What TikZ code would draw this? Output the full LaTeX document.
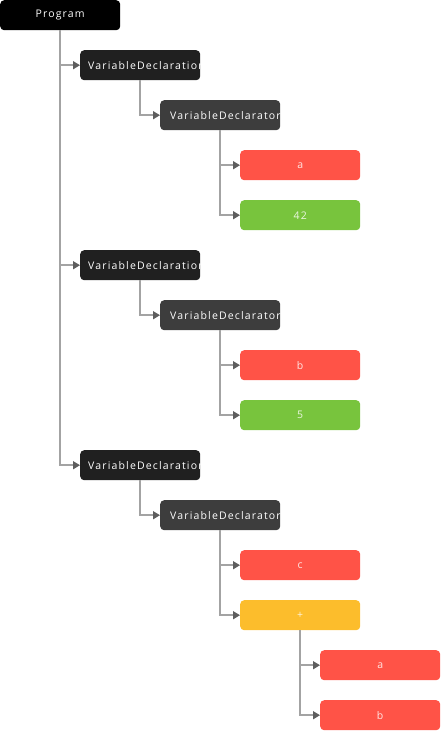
\documentclass[tikz,border=0pt]{standalone}
\usepackage{fontspec}
\setmainfont{Open Sans}
\usetikzlibrary{arrows.meta}
\definecolor{cprog}{HTML}{000000}
\definecolor{cvd}{HTML}{202020}
\definecolor{cvdr}{HTML}{3D3D3D}
\definecolor{cred}{HTML}{FF5347}
\definecolor{cgreen}{HTML}{78C43D}
\definecolor{cyellow}{HTML}{FCBD2C}
\definecolor{cline}{HTML}{A3A3A3}
\definecolor{ctip}{HTML}{5E5E5E}
\begin{document}
\begin{tikzpicture}[x=1pt,y=-1pt,
  box/.style={anchor=north west, minimum width=120pt, minimum height=30pt, inner sep=0pt, rounded corners=4pt, draw=none},
  lbl/.style={text=white, font=\fontsize{10.5}{12}\selectfont\addfontfeatures{LetterSpace=11}, inner sep=0pt},
  lblsoft/.style={lbl, text opacity=0.85},
  conn/.style={draw=cline, line width=1.5pt, -{Triangle[length=7pt,width=8pt,fill=ctip,color=ctip]}}
]
\useasboundingbox (0,0) rectangle (440,740);
% nodes
\node[box, fill=cprog] (prog) at (0,0) {};
\node[box, fill=cvd] (vda) at (80,50) {};
\node[box, fill=cvdr] (vdra) at (160,100) {};
\node[box, fill=cred] (ida) at (240,150) {};
\node[box, fill=cgreen] (lit42) at (240,200) {};
\node[box, fill=cvd] (vdb) at (80,250) {};
\node[box, fill=cvdr] (vdrb) at (160,300) {};
\node[box, fill=cred] (idb) at (240,350) {};
\node[box, fill=cgreen] (lit5) at (240,400) {};
\node[box, fill=cvd] (vdc) at (80,450) {};
\node[box, fill=cvdr] (vdrc) at (160,500) {};
\node[box, fill=cred] (idc) at (240,550) {};
\node[box, fill=cyellow] (plus) at (240,600) {};
\node[box, fill=cred] (ida2) at (320,650) {};
\node[box, fill=cred] (idb2) at (320,700) {};
% labels
\node[lbl] (progt) at (prog.center) {Program};
\foreach \n/\t/\pad in {vda/VariableDeclaration/8, vdb/VariableDeclaration/8, vdc/VariableDeclaration/8, vdra/VariableDeclarator/10, vdrb/VariableDeclarator/10, vdrc/VariableDeclarator/10}{
  \begin{scope}
    \clip (\n.north west) rectangle (\n.south east);
    \node[lbl, anchor=west] (\n t) at ([xshift=\pad pt]\n.west) {\t};
  \end{scope}
}
\node[lblsoft] (idat) at (ida.center) {a};
\node[lblsoft] (lit42t) at (lit42.center) {42};
\node[lblsoft] (idbt) at (idb.center) {b};
\node[lblsoft] (lit5t) at (lit5.center) {5};
\node[lblsoft] (idct) at (idc.center) {c};
\node[lblsoft] (plust) at (plus.center) {+};
\node[lblsoft] (ida2t) at (ida2.center) {a};
\node[lblsoft] (idb2t) at (idb2.center) {b};
% connectors
\foreach \p/\c in {prog/vda, prog/vdb, prog/vdc, vda/vdra, vdra/ida, vdra/lit42, vdb/vdrb, vdrb/idb, vdrb/lit5, vdc/vdrc, vdrc/idc, vdrc/plus, plus/ida2, plus/idb2}{
  \draw[conn] (\p.south) |- (\c.west);
}
\end{tikzpicture}
\end{document}
